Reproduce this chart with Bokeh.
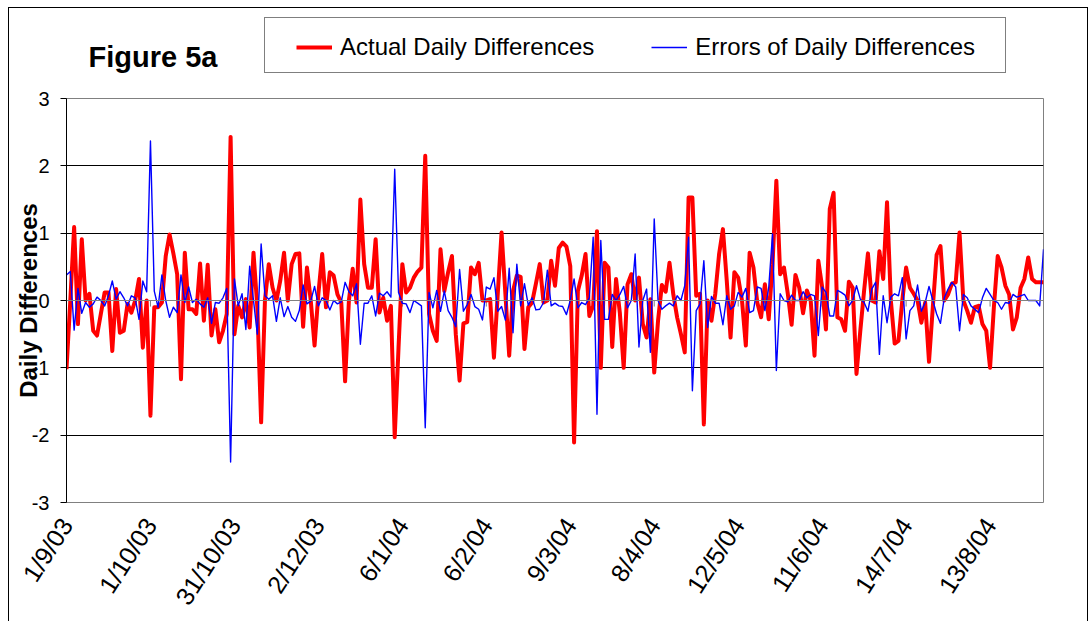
import math
from bokeh.plotting import figure
from bokeh.layouts import column
from bokeh.models import Range1d, FixedTicker, Legend, LegendItem, Span, Label
from bokeh.embed import file_html
from bokeh.resources import INLINE

# ---- data (trading days from 1/9/03) ----
actual = [
    -1.02, 0.0, 1.09, -0.35, 0.91, 0.0, 0.1, -0.45, -0.52, -0.2,
    0.12, 0.12, -0.75, 0.17, -0.48, -0.45, -0.05, -0.18, 0.0, 0.32,
    -0.7, 0.0, -1.71, -0.1, -0.1, -0.03, 0.66, 0.98, 0.7, 0.39,
    -1.17, 0.71, -0.13, -0.13, -0.2, 0.55, -0.3, 0.53, -0.52, -0.13,
    -0.62, -0.45, -0.2, 2.43, -0.5, -0.08, -0.25, 0.02, -0.4, 0.71,
    -0.1, -1.81, 0.0, 0.54, 0.19, 0.0, 0.29, 0.71, 0.0, 0.54,
    0.69, 0.7, -0.39, 0.49, 0.0, -0.67, 0.1, 0.69, -0.1, 0.42,
    0.37, 0.09, -0.03, -1.2, 0.0, 0.47, -0.03, 1.5, 0.54, 0.19,
    0.19, 0.91, -0.18, 0.04, -0.3, -0.08, -2.03, -0.7, 0.54, 0.12,
    0.19, 0.34, 0.43, 0.49, 2.15, -0.2, -0.45, -0.6, 0.76, 0.14,
    0.42, 0.66, -0.5, -1.19, -0.34, -0.32, 0.49, 0.39, 0.56, 0.0,
    0.0, 0.02, -0.85, 0.1, 1.01, 0.1, -0.82, 0.14, 0.37, 0.35,
    -0.72, -0.1, -0.03, 0.25, 0.54, -0.03, 0.0, 0.59, 0.22, 0.78,
    0.86, 0.8, 0.51, -2.11, 0.14, 0.37, 0.69, -0.23, -0.08, 1.03,
    -1.0, 0.56, 0.49, -0.69, 0.32, -0.19, -1.0, 0.24, 0.39, 0.0,
    0.34, -0.35, -0.55, 0.02, -1.07, -0.3, 0.23, 0.13, 0.56, 0.09,
    -0.25, -0.5, -0.77, 1.53, 1.53, 0.07, 0.1, -1.84, 0.0, -0.3,
    0.1, 0.69, 1.06, 0.3, -0.55, 0.42, 0.34, 0.0, -0.67, 0.71,
    0.49, -0.03, -0.25, 0.24, -0.28, 0.54, 1.78, 0.39, 0.49, 0.1,
    -0.36, 0.38, 0.19, -0.19, 0.15, 0.0, -0.82, 0.59, 0.2, -0.43,
    1.36, 1.6, -0.25, -0.28, -0.45, 0.28, 0.19, -1.09, -0.45, 0.15,
    0.7, 0.0, -0.03, 0.73, 0.32, 1.46, 0.0, -0.64, -0.6, 0.0,
    0.49, 0.19, 0.1, 0.0, -0.33, -0.03, -0.91, -0.1, 0.68, 0.81,
    0.0, 0.09, 0.25, 0.27, 1.01, 0.0, -0.15, -0.33, -0.1, -0.08,
    -0.35, -0.45, -1.0, -0.1, 0.66, 0.49, 0.22, 0.09, -0.43, -0.25,
    0.19, 0.32, 0.64, 0.32, 0.27, 0.27, 0.27,
]
errors = [
    0.38, 0.43, -0.44, 0.18, -0.19, -0.03, -0.1, -0.05, 0.05, 0.0,
    -0.08, 0.07, 0.29, 0.02, 0.13, 0.04, -0.08, 0.07, 0.04, -0.28,
    0.29, 0.13, 2.37, 0.14, -0.1, 0.38, 0.0, -0.25, -0.1, -0.18,
    0.38, -0.03, 0.2, -0.03, 0.02, -0.05, -0.1, 0.04, -0.34, -0.03,
    -0.04, 0.04, 0.18, -2.4, 0.32, -0.08, 0.1, -0.43, 0.51, 0.0,
    -0.5, 0.84, 0.07, 0.02, 0.07, -0.31, 0.04, -0.24, -0.09, -0.25,
    -0.31, -0.15, 0.23, -0.05, -0.01, 0.21, -0.08, 0.04, 0.0, -0.14,
    0.0, -0.05, -0.02, 0.27, 0.13, 0.07, 0.25, -0.65, -0.04, -0.04,
    0.07, -0.23, 0.11, 0.07, 0.13, 0.05, 1.95, 0.12, -0.04, -0.05,
    -0.18, 0.0, -0.04, -0.08, -1.89, 0.12, -0.11, 0.15, -0.16, 0.14,
    -0.15, -0.25, -0.39, 0.46, -0.16, -0.06, 0.09, -0.09, -0.13, -0.29,
    0.2, 0.17, 0.34, -0.16, -0.09, -0.29, 0.48, -0.48, 0.54, -0.08,
    0.25, -0.07, 0.04, -0.14, -0.13, -0.03, 0.45, -0.08, -0.04, -0.08,
    -0.09, -0.21, 0.0, 0.32, -0.11, -0.03, -0.06, 0.04, 0.94, -1.69,
    0.89, -0.28, -0.28, 0.09, 0.0, 0.09, 0.21, -0.11, 0.0, 0.69,
    -0.69, 0.0, 0.17, -0.77, 1.21, 0.0, -0.13, -0.08, -0.04, -0.08,
    0.07, 0.0, 0.22, 0.94, -1.34, -0.15, -0.05, 0.59, -0.4, 0.06,
    -0.04, -0.04, -0.36, 0.07, -0.13, -0.08, 0.12, 0.05, 0.18, -0.18,
    -0.15, 0.2, 0.18, -0.15, 0.19, 0.99, -1.04, 0.1, 0.0, -0.02,
    0.08, 0.0, 0.0, 0.13, 0.04, 0.09, 0.07, -0.52, 0.2, 0.12,
    -0.23, -0.23, 0.15, 0.12, 0.08, -0.08, 0.0, 0.22, 0.02, -0.03,
    -0.16, 0.17, 0.27, -0.8, 0.07, -0.33, 0.05, 0.1, 0.07, 0.34,
    -0.57, -0.15, -0.08, 0.23, -0.16, -0.03, 0.21, 0.0, -0.2, -0.34,
    0.04, 0.17, 0.27, 0.2, -0.45, 0.09, 0.04, -0.08, -0.13, -0.18,
    0.04, 0.18, 0.09, 0.0, -0.03, -0.13, -0.03, -0.04, 0.09, 0.05,
    0.07, 0.09, 0.0, 0.0, 0.0, -0.08, 0.76,
]
tick_labels = ["1/9/03", "1/10/03", "31/10/03", "2/12/03", "6/1/04", "6/2/04",
               "9/3/04", "8/4/04", "12/5/04", "11/6/04", "14/7/04", "13/8/04"]
tick_step = 22  # trading days between labelled dates
y_ticks = [-3, -2, -1, 0, 1, 2, 3]
series_names = ["Actual Daily Differences", "Errors of Daily Differences"]
series_colors = ["#FF0000", "#0000FF"]
series_widths = [4, 1.4]

FONT = "Liberation Sans"
W, H_HEAD, H_MAIN = 1090, 80, 541
x = list(range(len(actual)))
tick_pos = [i * tick_step for i in range(len(tick_labels))]

# ---------------- header: title + legend (frame aligned with main frame) ----------------
head = figure(width=W, height=H_HEAD, output_backend="svg", toolbar_location=None,
              title=None, x_axis_type=None, y_axis_type=None,
              x_range=Range1d(0, 10), y_range=Range1d(0, 10),
              min_border_left=66, min_border_right=47, min_border_top=0, min_border_bottom=0)
head.border_fill_color = None
head.background_fill_color = None
head.outline_line_color = None
head.grid.visible = False

# legend proxies (kept outside the visible range)
dummy = [head.line([-5, -4], [-5, -4], line_color=c, line_width=w)
         for c, w in zip(series_colors, series_widths)]
r_box = head.line([-5, -4], [-5, -4], line_alpha=0)

box = Legend(items=[LegendItem(label=" ", renderers=[r_box])], location=(198, 7),
             orientation="horizontal", padding=15, margin=0, spacing=0,
             glyph_width=10, glyph_height=24, label_height=24, label_standoff=0,
             label_width=700, label_text_font=FONT, label_text_font_size="24px",
             border_line_color="black", border_line_width=1,
             background_fill_color="white", background_fill_alpha=1)
head.add_layout(box)

leg = Legend(items=[LegendItem(label=n, renderers=[r]) for n, r in zip(series_names, dummy)],
             location=(230, 19), orientation="horizontal", padding=0, margin=0,
             spacing=57, glyph_width=36, glyph_height=24, label_height=24,
             label_standoff=8, label_text_font=FONT, label_text_font_size="24px",
             label_text_color="black", border_line_color=None, background_fill_alpha=0)
head.add_layout(leg)

head.add_layout(Label(x=22, y=24, x_units="screen", y_units="screen", text="Figure 5a",
                      text_font=FONT, text_font_style="bold", text_font_size="29px",
                      text_baseline="middle", text_align="left", text_color="black"))

# ---------------- main chart ----------------
p = figure(width=W, height=H_MAIN, output_backend="svg", toolbar_location=None,
           title=None,
           x_range=Range1d(0, len(actual) - 1), y_range=Range1d(y_ticks[0], y_ticks[-1]),
           min_border_left=66, min_border_right=47, min_border_top=18, min_border_bottom=119)
p.border_fill_color = None
p.background_fill_color = "white"
p.outline_line_color = "#808080"
p.outline_line_width = 1

p.xgrid.visible = False
p.ygrid.ticker = FixedTicker(ticks=[t for t in y_ticks if t not in (0, y_ticks[0], y_ticks[-1])])
p.ygrid.grid_line_color = "black"
p.ygrid.grid_line_width = 1
p.add_layout(Span(location=0, dimension="width", line_color="#808080", line_width=1))
p.segment(x0=tick_pos, y0=[0] * len(tick_pos), x1=tick_pos, y1=[-0.09] * len(tick_pos),
          line_color="#808080", line_width=1)

p.line(x, actual, line_color=series_colors[0], line_width=series_widths[0], line_join="round")
p.line(x, errors, line_color=series_colors[1], line_width=series_widths[1], line_join="round")

ya = p.yaxis[0]
ya.ticker = FixedTicker(ticks=y_ticks)
ya.major_label_overrides = {t: str(t) for t in y_ticks}
ya.axis_line_color = "black"
ya.major_tick_line_color = "black"
ya.major_tick_out = 6
ya.major_tick_in = 0
ya.minor_tick_line_color = None
ya.major_label_text_font = FONT
ya.major_label_text_font_size = "20px"
ya.major_label_text_color = "black"
ya.major_label_standoff = 11
ya.axis_label = "Daily Differences"
ya.axis_label_text_font = FONT
ya.axis_label_text_font_style = "bold"
ya.axis_label_text_font_size = "24px"
ya.axis_label_text_color = "black"
ya.axis_label_standoff = -13

xa = p.xaxis[0]
xa.ticker = FixedTicker(ticks=tick_pos)
xa.major_label_overrides = {t: lab for t, lab in zip(tick_pos, tick_labels)}
xa.axis_line_color = None
xa.major_tick_out = 0
xa.major_tick_in = 0
xa.minor_tick_line_color = None
xa.major_label_orientation = math.radians(57)
xa.major_label_text_font = FONT
xa.major_label_text_font_size = "25px"
xa.major_label_text_color = "black"
xa.major_label_standoff = 18

frame_css = ("linear-gradient(#000,#000) 8px 7px / 1px 100% no-repeat, "
             "linear-gradient(#000,#000) 8px 7px / 1080px 1px no-repeat, "
             "linear-gradient(#000,#000) 1087px 7px / 1px 100% no-repeat")
layout = column(head, p, spacing=0, styles={"background": frame_css})

open("out.html", "w").write(file_html(layout, INLINE))
